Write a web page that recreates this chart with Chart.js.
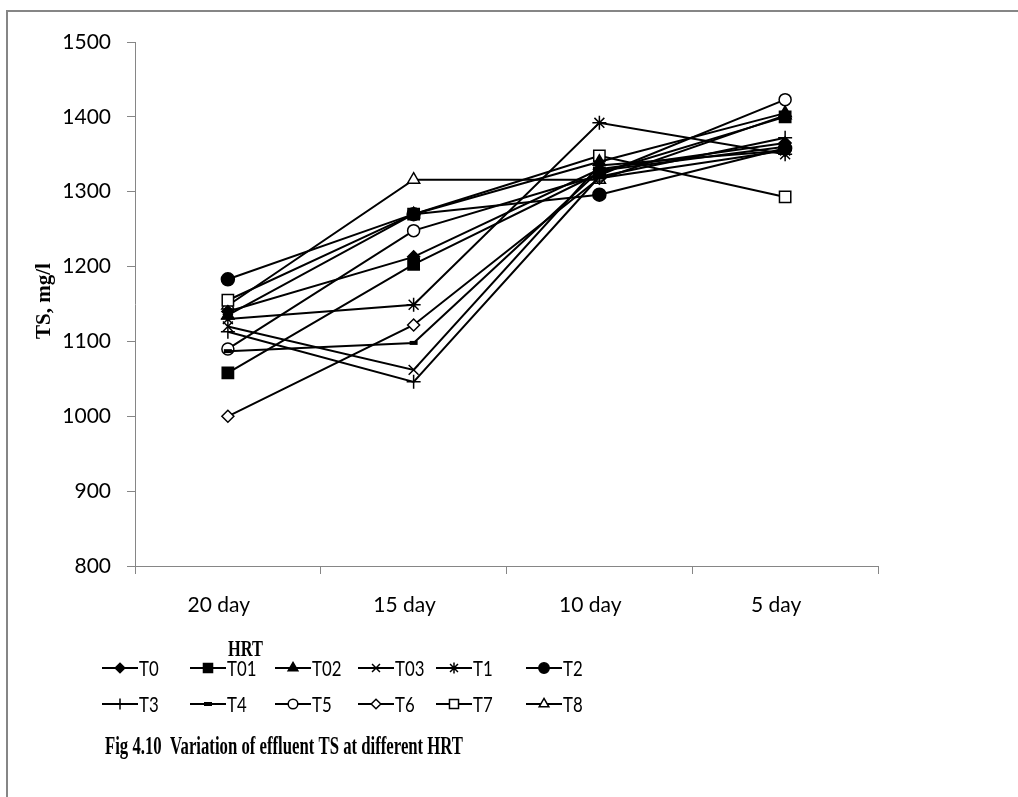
<!DOCTYPE html>
<html>
<head>
<meta charset="utf-8">
<title>Effluent TS at different HRT</title>
<script src="https://cdn.jsdelivr.net/npm/chart.js@4.4.1/dist/chart.umd.min.js"></script>
<style>
  body { margin: 0; background: #fff; }
</style>
</head>
<body>
<canvas id="tsChart" width="1018" height="797"></canvas>
<script>
  // HRT categories and TS readings (mg/l)
  const hrt = ['20 day', '15 day', '10 day', '5 day'];
  const yTicks = [800, 900, 1000, 1100, 1200, 1300, 1400, 1500];

  const T0  = [1140, 1213, 1330, 1365];
  const T01 = [1058, 1203, 1325, 1400];
  const T02 = [1135, 1270, 1340, 1405];
  const T03 = [1120, 1062, 1335, 1355];
  const T1  = [1130, 1149, 1392, 1350];
  const T2  = [1183, 1270, 1296, 1358];
  const T3  = [1113, 1046, 1320, 1372];
  const T4  = [1087, 1098, 1328, 1360];
  const T5  = [1090, 1248, 1322, 1423];
  const T6  = [1000, 1122, 1318, 1355];
  const T7  = [1155, 1270, 1348, 1293];
  const T8  = [1148, 1316, 1316, 1402];

  const series = [
    ['T0', T0], ['T01', T01], ['T02', T02], ['T03', T03], ['T1', T1], ['T2', T2],
    ['T3', T3], ['T4', T4], ['T5', T5], ['T6', T6], ['T7', T7], ['T8', T8]
  ];

  // marker look per series: [pointStyle, filled, radius]
  const markers = {
    T0:  ['rectRot', true, 6],
    T01: ['rect', true, 8],
    T02: ['triangle', true, 7],
    T03: ['crossRot', false, 7],
    T1:  ['star', false, 7],
    T2:  ['circle', true, 6.5],
    T3:  ['cross', false, 7],
    T4:  ['line', false, 4],
    T5:  ['circle', false, 6],
    T6:  ['rectRot', false, 6],
    T7:  ['rect', false, 8],
    T8:  ['triangle', false, 7]
  };

  const axisGrey = '#868686';
  const tickFont = { family: 'Lato', size: 21 };

  const datasets = series.map(([name, vals]) => {
    const [style, filled, r] = markers[name];
    return {
      label: name,
      data: vals,
      borderColor: '#000',
      borderWidth: 2,
      pointStyle: style,
      pointRadius: r,
      pointBorderColor: '#000',
      pointBackgroundColor: filled ? '#000' : '#fff',
      pointBorderWidth: style === 'line' ? 4 : 1.5,
      tension: 0
    };
  });

  // draw text squeezed horizontally (narrow face look)
  function narrowText(ctx, text, x, y, sx) {
    ctx.save();
    ctx.translate(x, y);
    ctx.scale(sx, 1);
    ctx.fillText(text, 0, 0);
    ctx.restore();
  }

  // frame, axis titles, legend and caption
  const decorations = {
    id: 'decorations',
    beforeDraw(chart) {
      const ctx = chart.ctx;
      ctx.save();
      ctx.fillStyle = '#fff';
      ctx.fillRect(0, 0, chart.width, chart.height);
      ctx.strokeStyle = axisGrey;
      ctx.lineWidth = 2;
      ctx.strokeRect(7, 11, 1200, 1000);
      ctx.restore();
    },
    afterDraw(chart) {
      const ctx = chart.ctx;
      ctx.save();
      ctx.fillStyle = '#000';
      ctx.textBaseline = 'middle';

      // y title
      ctx.font = 'bold 21px "Liberation Serif"';
      ctx.textAlign = 'center';
      ctx.save();
      ctx.translate(45, 301);
      ctx.rotate(-Math.PI / 2);
      ctx.fillText('TS, mg/l', 0, 0);
      ctx.restore();

      // x title
      ctx.textAlign = 'left';
      ctx.font = 'bold 23px "Liberation Serif"';
      narrowText(ctx, 'HRT', 228, 650, 35 / ctx.measureText('HRT').width);

      // legend, two rows of six
      const cols = [102, 190, 275, 358, 436, 526];
      const rows = [668, 704];
      ctx.font = '21px Lato';
      series.forEach(([name], i) => {
        const x = cols[i % 6];
        const y = rows[Math.floor(i / 6)];
        const [style, filled, r] = markers[name];
        ctx.strokeStyle = '#000';
        ctx.lineWidth = 2;
        ctx.beginPath();
        ctx.moveTo(x, y);
        ctx.lineTo(x + 36, y);
        ctx.stroke();
        ctx.fillStyle = filled ? '#000' : '#fff';
        ctx.lineWidth = style === 'line' ? 4 : 1.5;
        Chart.helpers.drawPoint(ctx, {
          pointStyle: style,
          radius: style === 'line' ? 4 : r * 0.8,
          rotation: 0,
          borderWidth: ctx.lineWidth
        }, x + 18, y);
        ctx.fillStyle = '#000';
        narrowText(ctx, name, x + 37, y + 1, 0.8);
      });

      // caption
      ctx.font = 'bold 25px "Liberation Serif"';
      const cap = 'Fig 4.10  Variation of effluent TS at different HRT';
      narrowText(ctx, cap, 105, 748, 358 / ctx.measureText(cap).width);
      ctx.restore();
    }
  };

  const config = {
    type: 'line',
    data: { labels: hrt, datasets: datasets },
    options: {
      responsive: false,
      animation: false,
      layout: { padding: { left: 0, right: 140, top: 42, bottom: 0 } },
      plugins: { legend: { display: false }, tooltip: { enabled: false } },
      scales: {
        x: {
          offset: true,
          grid: { offset: true, drawOnChartArea: false, color: axisGrey, tickLength: 8 },
          border: { color: axisGrey, width: 1 },
          ticks: { color: '#000', font: tickFont, padding: 19, labelOffset: -9 },
          afterFit: s => { s.height = 231; }
        },
        y: {
          min: 800,
          max: 1500,
          afterBuildTicks: s => { s.ticks = yTicks.map(v => ({ value: v })); },
          grid: { drawOnChartArea: false, color: axisGrey, tickLength: 8 },
          border: { color: axisGrey, width: 1 },
          ticks: { color: '#000', font: tickFont, padding: 16, callback: v => String(v) },
          afterFit: s => { s.width = 135; }
        }
      }
    },
    plugins: [decorations]
  };

  const tsChart = new Chart(document.getElementById('tsChart'), config);
</script>
</body>
</html>
